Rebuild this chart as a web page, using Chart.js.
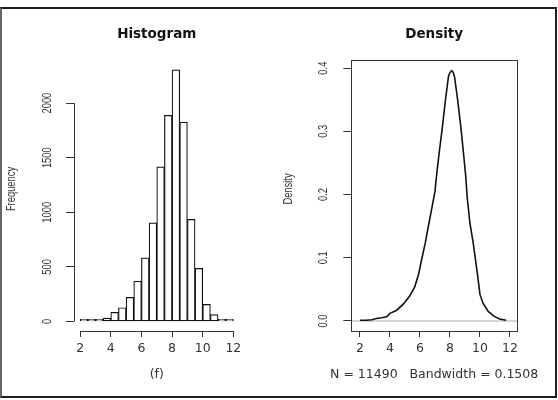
<!DOCTYPE html>
<html lang="en">
<head>
  <meta charset="UTF-8">
  <title>Histogram / Density</title>
  <script src="https://cdn.jsdelivr.net/npm/chart.js"></script>
  <style>
    html, body {
      margin: 0;
      padding: 0;
      background: #fff;
    }
    #page {
      position: relative;
      width: 558px;
      height: 400px;
      overflow: hidden;
    }
    .panel {
      position: absolute;
      top: 0;
      width: 279px;
      height: 400px;
    }
    #left { left: 0; }
    #right { left: 279px; }
    #frame {
      position: absolute;
      left: 0;
      top: 7px;
      width: 557px;
      height: 391px;
      box-sizing: border-box;
      border: 2px solid #1e1e1e;
      border-left-color: #666;
      pointer-events: none;
    }
  </style>
</head>
<body>

<div id="page">
  <div class="panel" id="left"><canvas id="histCvs"></canvas></div>
  <div class="panel" id="right"><canvas id="densCvs"></canvas></div>
  <div id="frame"></div>
</div>

<script>
// histogram: bin centres (width 0.5) and counts
const binMids = [2.25, 2.75, 3.25, 3.75, 4.25, 4.75, 5.25, 5.75, 6.25, 6.75,
                 7.25, 7.75, 8.25, 8.75, 9.25, 9.75, 10.25, 10.75, 11.25, 11.75];
const binCounts = [6, 6, 20, 30, 83, 125, 220, 368, 582, 903,
                   1416, 1887, 2305, 1826, 935, 486, 156, 62, 12, 5];

// density curve
const densX = [2.0, 2.4, 2.8, 3.1, 3.45, 3.8, 4.0, 4.45, 4.9, 5.3, 5.65, 5.9, 6.1, 6.35, 6.6,
               6.82, 7.0, 7.1, 7.28, 7.5, 7.7, 7.9, 8.0, 8.11, 8.2, 8.3, 8.5, 8.72, 8.9, 9.05,
               9.15, 9.33, 9.55, 9.7, 9.85, 10.0, 10.2, 10.55, 10.9, 11.3, 11.75];
const densY = [0.001, 0.001, 0.002, 0.004, 0.005, 0.007, 0.012, 0.017, 0.027, 0.039, 0.054, 0.073, 0.096, 0.123, 0.155,
               0.182, 0.205, 0.229, 0.266, 0.308, 0.350, 0.387, 0.393, 0.396, 0.394, 0.387, 0.352, 0.308, 0.266, 0.229,
               0.195, 0.155, 0.123, 0.097, 0.071, 0.042, 0.028, 0.015, 0.008, 0.003, 0.001];

// axes
const histXTicks = [2, 4, 6, 8, 10, 12];
const histXLabels = ['2', '4', '6', '8', '10', '12'];
const histYTicks = [0, 500, 1000, 1500, 2000];
const histYLabels = ['0', '500', '1000', '1500', '2000'];
const densXTicks = [2, 4, 6, 8, 10, 12];
const densXLabels = ['2', '4', '6', '8', '10', '12'];
const densYTicks = [0, 0.1, 0.2, 0.3, 0.4];
const densYLabels = ['0.0', '0.1', '0.2', '0.3', '0.4'];

const histXRange = [1.6, 12.4];
const histYRange = [-88, 2395];
const densXRange = [1.42, 12.47];
const densYRange = [-0.0159, 0.4124];

const AXIS_COL = '#333';
const TEXT_COL = '#333';
const TICK_FONT = { family: 'DejaVu Sans', size: 12.5 };

function rotText(ctx, text, x, y, font, squeeze) {
  ctx.save();
  ctx.translate(x, y);
  ctx.rotate(-Math.PI / 2);
  ctx.scale(squeeze, 1);
  ctx.font = font;
  ctx.fillStyle = TEXT_COL;
  ctx.textAlign = 'center';
  ctx.textBaseline = 'middle';
  ctx.fillText(text, 0, 0);
  ctx.restore();
}

function flatText(ctx, text, x, y, font, color) {
  ctx.save();
  ctx.font = font;
  ctx.fillStyle = color || TEXT_COL;
  ctx.textAlign = 'center';
  ctx.textBaseline = 'middle';
  ctx.fillText(text, x, y);
  ctx.restore();
}

function setTicks(values) {
  return scale => { scale.ticks = values.map(v => ({ value: v })); };
}

// R-like decorations: axis lines / box, rotated y labels, titles
function rDecor(o) {
  return {
    id: 'rDecor',
    afterDraw(chart) {
      const { ctx, chartArea: a, scales } = chart;
      const x = scales.x, y = scales.y;
      ctx.save();
      ctx.strokeStyle = AXIS_COL;
      ctx.lineWidth = 1;
      if (o.box) {
        ctx.strokeRect(Math.round(a.left) + 0.5, Math.round(a.top) + 0.5,
                       Math.round(a.right - a.left), Math.round(a.bottom - a.top));
      } else {
        const yb = Math.round(a.bottom) + 0.5, xl = Math.round(a.left) + 0.5;
        ctx.beginPath();
        ctx.moveTo(x.getPixelForValue(o.xTicks[0]), yb);
        ctx.lineTo(x.getPixelForValue(o.xTicks[o.xTicks.length - 1]), yb);
        ctx.moveTo(xl, y.getPixelForValue(o.yTicks[0]));
        ctx.lineTo(xl, y.getPixelForValue(o.yTicks[o.yTicks.length - 1]));
        ctx.stroke();
      }
      ctx.restore();

      o.yTicks.forEach((v, i) => {
        rotText(ctx, o.yLabels[i], o.yLabelX, y.getPixelForValue(v), '12px "Liberation Sans"', 0.78);
      });
      rotText(ctx, o.yTitle, o.yTitleX, 189, '12px "Liberation Sans"', 0.78);

      const cx = (a.left + a.right) / 2;
      flatText(ctx, o.title, cx, 34, 'bold 13.5px "DejaVu Sans"', '#111');
      flatText(ctx, o.sub, cx, 375, '12.5px "DejaVu Sans"');
    }
  };
}

function xScale(range, ticks, labels) {
  return {
    type: 'linear',
    min: range[0],
    max: range[1],
    offset: false,
    afterBuildTicks: setTicks(ticks),
    afterFit: s => { s.height = 69; },
    border: { display: false },
    grid: { drawOnChartArea: false, offset: false, tickLength: 6, color: AXIS_COL },
    ticks: {
      font: TICK_FONT,
      color: TEXT_COL,
      padding: 4,
      maxRotation: 0,
      autoSkip: false,
      callback: (v, i) => labels[i]
    }
  };
}

function yScale(range, ticks, width) {
  return {
    type: 'linear',
    min: range[0],
    max: range[1],
    afterBuildTicks: setTicks(ticks),
    afterFit: s => { s.width = width; },
    border: { display: false },
    grid: { drawOnChartArea: false, tickLength: 8, color: AXIS_COL },
    ticks: { display: false }
  };
}

const common = {
  responsive: true,
  maintainAspectRatio: false,
  animation: false,
  plugins: { legend: { display: false }, tooltip: { enabled: false } }
};

new Chart(document.getElementById('histCvs'), {
  type: 'bar',
  data: {
    datasets: [{
      data: binMids.map((m, i) => ({ x: m, y: binCounts[i] })),
      backgroundColor: '#fff',
      borderColor: '#111',
      borderWidth: 1.2,
      borderSkipped: false,
      minBarLength: 2,
      barPercentage: 1,
      categoryPercentage: 1
    }]
  },
  options: {
    ...common,
    layout: { padding: { top: 60, right: 39.5, left: 0, bottom: 0 } },
    scales: {
      x: xScale(histXRange, histXTicks, histXLabels),
      y: yScale(histYRange, histYTicks, 74)
    }
  },
  plugins: [rDecor({
    box: false,
    xTicks: histXTicks, yTicks: histYTicks, yLabels: histYLabels,
    yLabelX: 48, yTitle: 'Frequency', yTitleX: 12,
    title: 'Histogram', sub: '(f)'
  })]
});

new Chart(document.getElementById('densCvs'), {
  type: 'line',
  data: {
    datasets: [{
      data: densX.map((x, i) => ({ x, y: densY[i] })),
      borderColor: '#111',
      borderWidth: 1.6,
      pointRadius: 0,
      tension: 0
    }, {
      data: [{ x: densXRange[0], y: 0 }, { x: densXRange[1], y: 0 }],
      borderColor: '#d6d6d6',
      borderWidth: 2,
      pointRadius: 0
    }]
  },
  options: {
    ...common,
    layout: { padding: { top: 60.3, right: 41, left: 0, bottom: 0 } },
    scales: {
      x: xScale(densXRange, densXTicks, densXLabels),
      y: yScale(densYRange, densYTicks, 72.3)
    }
  },
  plugins: [rDecor({
    box: true,
    xTicks: densXTicks, yTicks: densYTicks, yLabels: densYLabels,
    yLabelX: 45, yTitle: 'Density', yTitleX: 10,
    title: 'Density', sub: 'N = 11490   Bandwidth = 0.1508'
  })]
});
</script>

</body>
</html>
